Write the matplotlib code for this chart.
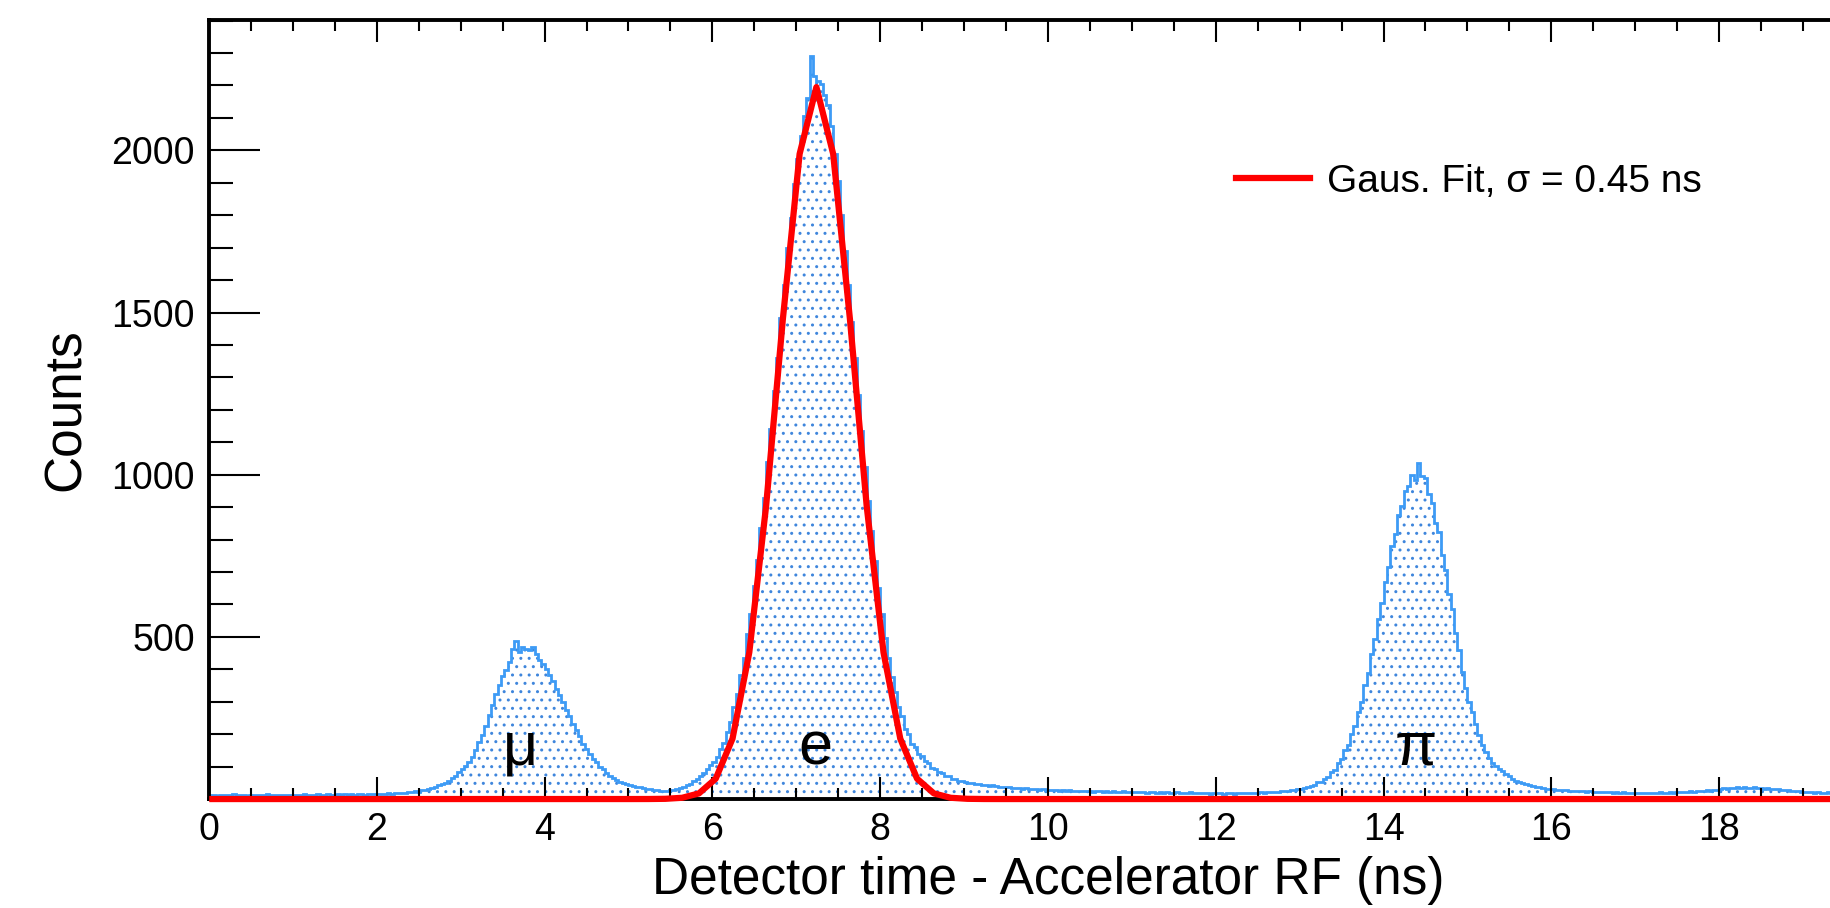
import numpy as np
import matplotlib
matplotlib.use('Agg')
import matplotlib.pyplot as plt
from matplotlib.ticker import MultipleLocator, FixedLocator

plt.rcParams['font.family'] = ['Liberation Sans', 'DejaVu Sans']

# histogram: 500 bins of 0.04 ns from 0 to 20 ns (one row per ns)
counts = [
    11, 12, 10, 13, 12, 11, 12, 14, 11, 12, 13, 10, 12, 12, 11, 13, 12, 14, 11, 12, 13, 12, 11, 13, 12,
    13, 12, 11, 14, 12, 13, 12, 14, 13, 11, 14, 13, 12, 15, 13, 14, 12, 14, 13, 15, 14, 13, 15, 14, 16,
    15, 17, 16, 18, 17, 19, 18, 20, 19, 22, 21, 24, 23, 27, 29, 31, 35, 37, 42, 46, 50, 57, 64, 72, 84,
    92, 101, 115, 131, 150, 176, 197, 226, 258, 290, 325, 352, 378, 398, 421, 462, 488, 452, 470, 463, 458, 470, 448, 430, 415,
    402, 381, 364, 338, 322, 300, 276, 255, 232, 212, 193, 170, 155, 138, 124, 114, 100, 92, 80, 72, 66, 59, 53, 50, 46,
    42, 40, 37, 36, 34, 32, 30, 28, 27, 25, 26, 24, 27, 28, 31, 33, 38, 42, 47, 55, 62, 70, 80, 92, 106,
    115, 130, 155, 174, 207, 236, 285, 325, 383, 434, 508, 570, 656, 738, 835, 928, 1038, 1140, 1258, 1360, 1484, 1585, 1700, 1792, 1895,
    1972, 2045, 2105, 2160, 2290, 2230, 2215, 2205, 2170, 2140, 2075, 1990, 1905, 1800, 1690, 1585, 1470, 1360, 1245, 1135, 1025, 920, 825, 735, 650,
    570, 495, 436, 377, 331, 284, 256, 217, 199, 171, 160, 139, 133, 116, 110, 97, 93, 83, 81, 72, 70, 63, 62, 55, 55,
    53, 50, 49, 46, 47, 44, 43, 41, 42, 39, 38, 37, 36, 37, 34, 35, 33, 32, 33, 31, 30, 31, 29, 30, 28,
    29, 27, 28, 26, 27, 25, 27, 26, 24, 26, 25, 24, 25, 23, 26, 24, 23, 25, 22, 24, 23, 22, 24, 21, 23,
    22, 23, 21, 22, 20, 22, 21, 19, 21, 20, 22, 19, 20, 21, 18, 20, 19, 21, 18, 19, 20, 18, 19, 17, 19,
    18, 19, 17, 18, 19, 17, 18, 20, 18, 19, 18, 20, 19, 21, 20, 22, 21, 23, 22, 24, 25, 26, 28, 29, 31,
    30, 35, 36, 41, 43, 51, 54, 63, 68, 83, 91, 110, 123, 150, 168, 202, 226, 268, 300, 352, 390, 448, 493, 556, 604,
    668, 715, 780, 818, 875, 905, 950, 965, 1000, 985, 1035, 995, 990, 942, 912, 852, 822, 752, 706, 633, 585, 512, 460, 392, 342,
    300, 268, 232, 196, 168, 146, 128, 112, 101, 93, 85, 76, 70, 62, 57, 52, 49, 45, 43, 40, 38, 36, 34, 32, 31,
    30, 29, 28, 27, 28, 26, 25, 26, 24, 25, 23, 24, 22, 23, 22, 21, 23, 21, 20, 22, 20, 21, 19, 20, 19,
    19, 20, 18, 19, 20, 18, 19, 21, 19, 20, 21, 20, 22, 21, 23, 22, 24, 23, 25, 24, 26, 27, 26, 28, 29,
    30, 33, 31, 35, 34, 36, 33, 37, 35, 34, 36, 33, 35, 32, 34, 31, 32, 30, 29, 28, 27, 26, 25, 24, 23,
    22, 21, 22, 20, 21, 19, 20, 21, 19, 20, 18, 19, 20, 18, 19, 18, 17, 19, 18, 17, 18, 16, 17, 18, 16,
]
t_min, t_max = 0.0, 20.0

# gaussian fit drawn as 100 points, 0.2 ns apart starting at 0.04 ns
fit_peak = [0.1, 0.7, 3.9, 17.4, 62.7, 186, 452, 902, 1479, 1989, 2195,
            1989, 1479, 902, 452, 186, 62.7, 17.4, 3.9, 0.7, 0.1]
fit_y = [0.0] * 26 + fit_peak + [0.0] * 53
fit_label = 'Gaus. Fit, \u03c3 = 0.45 ns'

peak_names = ['\u03bc', 'e', '\u03c0']
peak_pos = [3.71, 7.23, 14.38]
peak_text_y = 108

# 20 sits past the cropped right edge, so it is left out
x_ticks = [0, 2, 4, 6, 8, 10, 12, 14, 16, 18]
y_ticks = [500, 1000, 1500, 2000]


def main():
    fig = plt.figure(figsize=(18.3, 9.08), dpi=100)
    # the frame runs past the right border of the picture, as in the original
    ax = fig.add_axes([0.1142, 0.1200, 0.9169, 0.8580])

    edges = np.linspace(t_min, t_max, len(counts) + 1)
    ax.stairs(counts, edges, fill=True, facecolor='none', edgecolor='#3f86dc',
              hatch='..', linewidth=0)
    ax.stairs(counts, edges, color='#3d9bf5', linewidth=2.0)

    fit_x = np.round(0.04 + 0.2 * np.arange(len(fit_y)), 2)
    ax.plot(fit_x, fit_y, color='#ff0000', linewidth=4.5, label=fit_label,
            clip_on=False, zorder=5)

    for name, x in zip(peak_names, peak_pos):
        ax.text(x, peak_text_y, name, fontsize=44, ha='center', va='baseline')

    ax.set_xlim(t_min, t_max)
    ax.set_ylim(0, 2402)
    ax.xaxis.set_major_locator(FixedLocator(x_ticks))
    ax.xaxis.set_minor_locator(MultipleLocator(0.5))
    ax.yaxis.set_major_locator(FixedLocator(y_ticks))
    ax.yaxis.set_minor_locator(MultipleLocator(100))

    ax.tick_params(axis='both', which='both', direction='in', top=True, right=True,
                   width=1.5, labelsize=27)
    ax.tick_params(axis='x', which='major', length=16, pad=9)
    ax.tick_params(axis='x', which='minor', length=8)
    ax.tick_params(axis='y', which='major', length=37, pad=10)
    ax.tick_params(axis='y', which='minor', length=17.5)
    for s in ax.spines.values():
        s.set_linewidth(2.8)

    ax.set_xlabel('Detector time - Accelerator RF (ns)', fontsize=37, labelpad=6)
    ax.set_ylabel('Counts', fontsize=37, labelpad=15)

    ax.legend(loc='center left', bbox_to_anchor=(0.6754, 0.7996),
              bbox_transform=fig.transFigure, frameon=False, fontsize=28,
              handlelength=1.9, handletextpad=0.44, borderpad=0, borderaxespad=0)

    fig.savefig('out.png', dpi=100)


if __name__ == '__main__':
    main()
